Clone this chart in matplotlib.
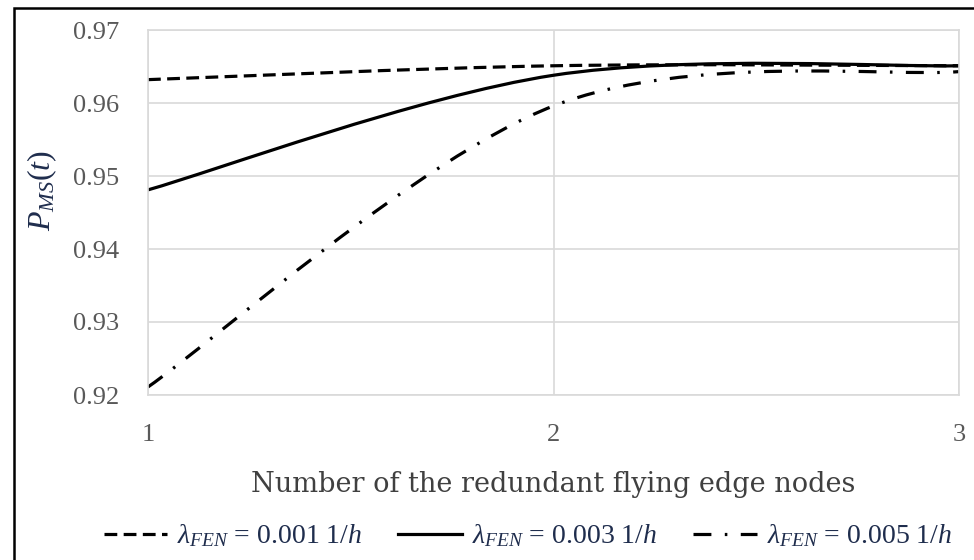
import numpy as np
import matplotlib.pyplot as plt
from matplotlib.path import Path
from matplotlib.patches import PathPatch, Rectangle
from matplotlib.lines import Line2D

nodes = [1, 2, 3]
p_001 = [0.9632, 0.9651, 0.9651]
p_003 = [0.9481, 0.9638, 0.9651]
p_005 = [0.9211, 0.9596, 0.9643]
labels = [r"$\lambda_{FEN}$ = 0.001 1/$h$",
          r"$\lambda_{FEN}$ = 0.003 1/$h$",
          r"$\lambda_{FEN}$ = 0.005 1/$h$"]
styles = [(0, (4, 2)), "-", (0, (5.6, 4.2, 0.8, 4.2))]

yticks = [0.92, 0.93, 0.94, 0.95, 0.96, 0.97]


def smooth_path(x, y):
    # excel style smoothed line: bezier through the points
    pts = np.column_stack([x, y]).astype(float)
    n = len(pts)
    verts = [pts[0]]
    codes = [Path.MOVETO]
    for i in range(n - 1):
        p_prev = pts[max(i - 1, 0)]
        p_next = pts[min(i + 2, n - 1)]
        c1 = pts[i] + (pts[i + 1] - p_prev) / 6
        c2 = pts[i + 1] - (p_next - pts[i]) / 6
        verts += [c1, c2, pts[i + 1]]
        codes += [Path.CURVE4] * 3
    return Path(verts, codes)


plt.rcParams['mathtext.fontset'] = 'custom'
plt.rcParams['mathtext.rm'] = 'Liberation Serif'
plt.rcParams['mathtext.it'] = 'Liberation Serif:italic'
fig = plt.figure(figsize=(9.74, 5.6), dpi=100)
ax = fig.add_axes([148 / 974, 1 - 395 / 560, (959 - 148) / 974, (395 - 30) / 560])

for y, ls in zip([p_001, p_003, p_005], styles):
    patch = PathPatch(smooth_path(nodes, y), facecolor="none", edgecolor="black",
                      lw=2.3, linestyle=ls, capstyle="butt")
    ax.add_patch(patch)

ax.set_xlim(1, 3)
ax.set_ylim(0.92, 0.97)
ax.set_xticks(nodes)
ax.set_yticks(yticks)
ax.set_yticklabels([f"{v:.2f}" for v in yticks])
ax.grid(True, color="#d9d9d9", lw=1.2)
ax.set_axisbelow(True)
for s in ax.spines.values():
    s.set_color("#d9d9d9")
    s.set_linewidth(1.2)
ax.tick_params(length=0, labelcolor="#595959", labelsize=19)
for t in ax.get_xticklabels() + ax.get_yticklabels():
    t.set_family("Liberation Serif")
ax.tick_params(axis="y", pad=21)
ax.tick_params(axis="x", pad=21)

ax.set_xlabel("Number of the redundant flying edge nodes", family="DejaVu Serif",
              fontsize=19.5, color="#404040", labelpad=18)
fig.text(42 / 974, 1 - 190 / 560, r"$P_{MS}(t)$", rotation=90, fontsize=23,
         color="#1f2d4d", ha="center", va="center")

handles = [Line2D([], [], color="black", lw=2.3, linestyle=ls) for ls in styles]
fig.legend(handles, labels, loc="center", bbox_to_anchor=(0.542, 1 - 536 / 560), ncol=3,
           frameon=False, handlelength=2.3, columnspacing=1.3,
           handletextpad=0.35, labelcolor="#1f2d4d",
           prop={"family": "Liberation Serif", "size": 20})

fig.patches.append(Rectangle((14 / 974, -0.1), 1.2, 1 - 8 / 560 + 0.1, transform=fig.transFigure,
                             fill=False, edgecolor="black", lw=1.8))

fig.savefig("out.png", dpi=100)
